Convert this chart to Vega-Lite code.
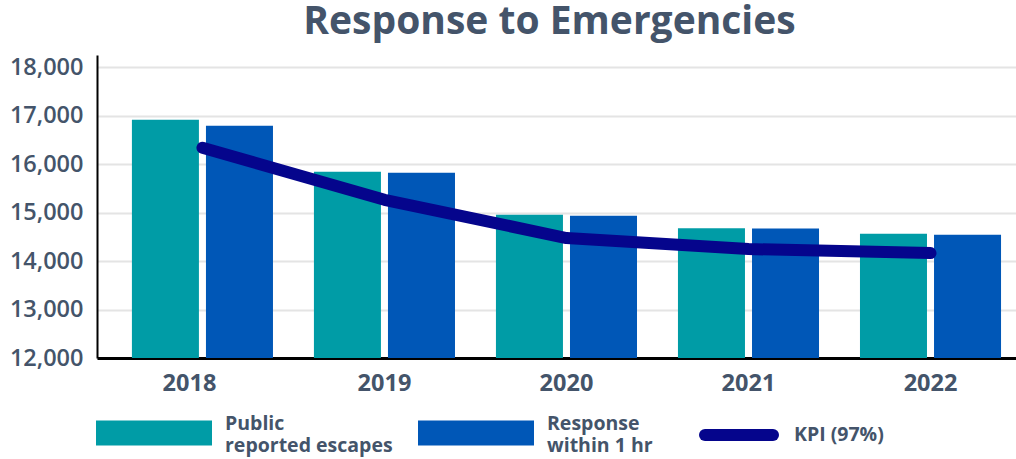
{
  "$schema": "https://vega.github.io/schema/vega-lite/v6.json",
  "width": 919,
  "height": 303,
  "autosize": {"type": "none"},
  "padding": {"left": 97, "top": 55, "right": 0, "bottom": 101},
  "background": "white",
  "title": {
    "text": "Response to Emergencies",
    "font": "Open Sans",
    "fontSize": 39,
    "fontWeight": "bold",
    "color": "#44546A",
    "anchor": "middle",
    "frame": "group",
    "baseline": "alphabetic",
    "offset": -18,
    "dx": -7
  },
  "config": {"view": {"stroke": null}, "font": "Open Sans"},
  "datasets": {
    "bars": [
      {"year": "2018", "series": "Public reported escapes", "value": 16913},
      {"year": "2018", "series": "Response within 1 hr", "value": 16790},
      {"year": "2019", "series": "Public reported escapes", "value": 15841},
      {"year": "2019", "series": "Response within 1 hr", "value": 15820},
      {"year": "2020", "series": "Public reported escapes", "value": 14955},
      {"year": "2020", "series": "Response within 1 hr", "value": 14934},
      {"year": "2021", "series": "Public reported escapes", "value": 14677},
      {"year": "2021", "series": "Response within 1 hr", "value": 14672},
      {"year": "2022", "series": "Public reported escapes", "value": 14563},
      {"year": "2022", "series": "Response within 1 hr", "value": 14542}
    ],
    "kpi": [
      {"year": "2018", "kpi": 16336},
      {"year": "2019", "kpi": 15264},
      {"year": "2020", "kpi": 14474},
      {"year": "2021", "kpi": 14247},
      {"year": "2022", "kpi": 14165}
    ]
  },
  "layer": [
    {
      "data": {"name": "bars"},
      "mark": {"type": "bar", "clip": true},
      "encoding": {
        "x": {
          "field": "year",
          "type": "nominal",
          "scale": {"paddingInner": 0.225, "paddingOuter": 0.137, "align": 0.7},
          "axis": {
            "title": null,
            "labelAngle": 0,
            "ticks": false,
            "grid": false,
            "domainColor": "#000000",
            "domainWidth": 3,
            "labelFont": "Open Sans",
            "labelFontSize": 23.5,
            "labelFontWeight": "bold",
            "labelColor": "#44546A",
            "labelPadding": 13,
            "labelOffset": {"condition": {"test": "datum.label === '2018'", "value": -13}, "value": 0}
          }
        },
        "xOffset": {
          "field": "series",
          "type": "nominal",
          "sort": ["Public reported escapes", "Response within 1 hr"],
          "scale": {"paddingInner": 0.095, "paddingOuter": 0}
        },
        "y": {
          "field": "value",
          "type": "quantitative",
          "scale": {"domain": [12000, 18250], "nice": false, "zero": false},
          "axis": {
            "title": null,
            "values": [12000, 13000, 14000, 15000, 16000, 17000, 18000],
            "format": ",d",
            "ticks": false,
            "grid": true,
            "gridColor": "#E4E4E4",
            "gridWidth": 2,
            "domainColor": "#000000",
            "domainWidth": 2,
            "labelFont": "Open Sans",
            "labelFontSize": 23.5,
            "labelFontWeight": 600,
            "labelColor": "#44546A",
            "labelPadding": 14
          }
        },
        "color": {
          "field": "series",
          "type": "nominal",
          "sort": ["Public reported escapes", "Response within 1 hr"],
          "scale": {"range": ["#009CA6", "#0057B7"]},
          "legend": {
            "orient": "none",
            "legendX": -1,
            "legendY": 320,
            "direction": "horizontal",
            "title": null,
            "padding": 0,
            "symbolType": "M-1,-0.2155H1V0.2155H-1Z",
            "symbolSize": 13456,
            "symbolStrokeWidth": 0,
            "symbolOpacity": 1,
            "labelFont": "Open Sans",
            "labelFontSize": 19.5,
            "labelFontWeight": "bold",
            "labelColor": "#44546A",
            "labelOffset": 13,
            "labelLimit": 300,
            "columnPadding": 25,
            "labelExpr": "datum.label == 'Public reported escapes' ? ['Public', 'reported escapes'] : ['Response', 'within 1 hr']",
            "encode": {"labels": {"update": {"dy": {"value": -9}}}}
          }
        }
      }
    },
    {
      "data": {"name": "kpi"},
      "mark": {"type": "line", "strokeWidth": 12, "strokeCap": "round", "strokeJoin": "round"},
      "encoding": {
        "x": {"field": "year", "type": "nominal"},
        "y": {"field": "kpi", "type": "quantitative"},
        "stroke": {
          "datum": "KPI (97%)",
          "type": "nominal",
          "scale": {"range": ["#05058C"]},
          "legend": {
            "orient": "none",
            "legendX": 602,
            "legendY": 340,
            "title": null,
            "padding": 0,
            "symbolType": "stroke",
            "symbolSize": 4624,
            "symbolStrokeWidth": 12,
            "symbolStrokeColor": "#05058C",
            "labelFont": "Open Sans",
            "labelFontSize": 19.5,
            "labelFontWeight": "bold",
            "labelColor": "#44546A",
            "labelOffset": 15,
            "encode": {"symbols": {"update": {"strokeCap": {"value": "round"}}}}
          }
        }
      }
    }
  ]
}
